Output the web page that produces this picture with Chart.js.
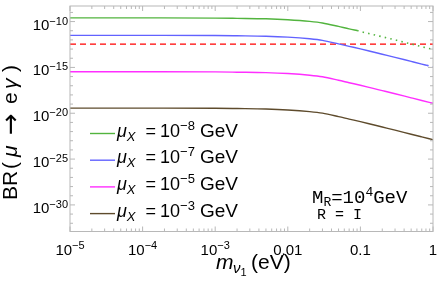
<!DOCTYPE html>
<html>
<head>
<meta charset="utf-8">
<script src="https://cdn.jsdelivr.net/npm/chart.js@4.4.1/dist/chart.umd.min.js"></script>
<style>
  html, body { margin: 0; padding: 0; background: #fff; }
  canvas { display: block; }
</style>
</head>
<body>
<canvas id="chart" width="441" height="285"></canvas>
<script>
// lightest neutrino mass m_nu1 (eV)
const mass = [1e-5, 1e-4, 1e-3, 2e-3, 5e-3, 0.01, 0.02, 0.03, 0.05, 0.07, 0.1, 0.15, 0.2, 0.3, 0.5, 0.7, 1];

// BR(mu -> e gamma)
const massMu8 = [1e-5, 1e-4, 1e-3, 2e-3, 5e-3, 0.01, 0.02, 0.03, 0.05, 0.07, 0.09];
const brMu8 = [2.51e-10, 2.51e-10, 2.4e-10, 2.24e-10, 2.0e-10, 1.58e-10, 1.05e-10, 7.1e-11, 2.95e-11, 1.58e-11, 1.07e-11];
const massMu8Dot = [0.09, 0.1, 0.15, 0.2, 0.3, 0.5, 0.7, 1];
const brMu8Dot = [1.07e-11, 8.3e-12, 3.8e-12, 2.19e-12, 1.0e-12, 3.55e-13, 1.82e-13, 9.1e-14];

const massMu7 = [1e-5, 1e-4, 1e-3, 2e-3, 5e-3, 0.01, 0.02, 0.03, 0.05, 0.07, 0.1, 0.15, 0.2, 0.3, 0.5, 0.7, 0.83];
const brMu7 = [3.16e-12, 3.16e-12, 3.02e-12, 2.82e-12, 2.51e-12, 2.0e-12, 1.32e-12, 8.9e-13, 3.7e-13, 2.0e-13, 1.05e-13, 4.8e-14, 2.75e-14, 1.26e-14, 4.5e-15, 2.3e-15, 1.66e-15];
const massMu7Dot = [0.83, 1];
const brMu7Dot = [1.66e-15, 1.15e-15];

const brMu5 = [3.4e-16, 3.4e-16, 3.24e-16, 3.02e-16, 2.7e-16, 2.14e-16, 1.41e-16, 9.5e-17, 4.0e-17, 2.14e-17, 1.12e-17, 5.1e-18, 2.95e-18, 1.35e-18, 4.8e-19, 2.45e-19, 1.23e-19];
const brMu3 = [3.6e-20, 3.6e-20, 3.47e-20, 3.24e-20, 2.88e-20, 2.29e-20, 1.51e-20, 1.02e-20, 4.3e-21, 2.3e-21, 1.2e-21, 5.5e-22, 3.16e-22, 1.45e-22, 5.1e-23, 2.63e-23, 1.32e-23];

// MEG bound (dashed)
const megBound = 3.5e-13;

// legend exponents of mu_X (GeV)
const muExp = ['\u22128', '\u22127', '\u22125', '\u22123'];
const colors = ['#52b43e', '#6262ff', '#ff2eff', '#5e4b2c'];

// tick labels
const xTickValues = [1e-5, 1e-4, 1e-3, 0.01, 0.1, 1];
const xTickLabels = [['10', '\u22125'], ['10', '\u22124'], ['10', '\u22123'], ['0.01', ''], ['0.1', ''], ['1', '']];
const yTickValues = [1e-30, 1e-25, 1e-20, 1e-15, 1e-10];
const yTickLabels = ['\u221230', '\u221225', '\u221220', '\u221215', '\u221210'];

const SANS = '"Liberation Sans", Arial, sans-serif';
const MONO = '"Liberation Mono", "Courier New", monospace';

const pts = (xs, ys) => xs.map((v, i) => ({ x: v, y: ys[i] }));

// text runs; p.at gives an explicit offset, otherwise runs follow each other
function drawRuns(ctx, parts, x, y, align) {
  let w = 0;
  for (const p of parts) { ctx.font = p.font; w += ctx.measureText(p.text).width + (p.gap || 0); }
  let cx = align === 'right' ? x - w : align === 'center' ? x - w / 2 : x;
  for (const p of parts) {
    ctx.font = p.font;
    const px = p.at !== undefined ? x + p.at : cx;
    ctx.fillText(p.text, px, y + (p.dy || 0));
    cx = px + ctx.measureText(p.text).width + (p.gap || 0);
  }
}

const decorations = {
  id: 'decorations',
  afterDraw(chart) {
    const { ctx, chartArea: a, scales: { x, y } } = chart;
    ctx.save();

    // frame + inside ticks on all four sides
    ctx.strokeStyle = '#b8b8b8';
    ctx.lineWidth = 1;
    ctx.strokeRect(a.left, a.top, a.right - a.left, a.bottom - a.top);
    ctx.beginPath();
    x.ticks.forEach(t => {
      const px = x.getPixelForValue(t.value), len = t.major ? 5 : 3;
      ctx.moveTo(px, a.bottom); ctx.lineTo(px, a.bottom - len);
      ctx.moveTo(px, a.top); ctx.lineTo(px, a.top + len);
    });
    y.ticks.forEach(t => {
      const py = y.getPixelForValue(t.value), len = t.major ? 5 : 3;
      ctx.moveTo(a.left, py); ctx.lineTo(a.left + len, py);
      ctx.moveTo(a.right, py); ctx.lineTo(a.right - len, py);
    });
    ctx.stroke();

    ctx.fillStyle = '#000';
    ctx.textAlign = 'left';
    ctx.textBaseline = 'alphabetic';

    // tick labels
    xTickValues.forEach((v, i) => {
      const [base, sup] = xTickLabels[i];
      drawRuns(ctx, [
        { text: base, font: '15px ' + SANS },
        { text: sup, font: '11px ' + SANS, dy: -6 }
      ], x.getPixelForValue(v), 255, 'center');
    });
    yTickValues.forEach((v, i) => {
      drawRuns(ctx, [
        { text: '10', font: '15px ' + SANS },
        { text: yTickLabels[i], font: '11px ' + SANS, dy: -5 }
      ], a.left - 2, y.getPixelForValue(v) + 8, 'right');
    });

    // x title
    drawRuns(ctx, [
      { text: 'm', font: 'italic 21px ' + SANS, at: 0 },
      { text: '\u03bd', font: 'italic 15px ' + SANS, at: 17, dy: 4 },
      { text: '1', font: '11px ' + SANS, at: 24.5, dy: 7 },
      { text: '(eV)', font: '21px ' + SANS, at: 35 }
    ], 216, 269, 'left');

    // y title
    ctx.save();
    ctx.translate(17, 200);
    ctx.rotate(-Math.PI / 2);
    drawRuns(ctx, [
      { text: 'BR', font: '21px ' + SANS, at: 0 },
      { text: '(', font: '21px ' + SANS, at: 31 },
      { text: '\u03bc', font: 'italic 21px ' + SANS, at: 43 },
      { text: '\u2192', font: '26px "DejaVu Sans", sans-serif', at: 65, dy: 1.5 },
      { text: 'e', font: '21px ' + SANS, at: 96 },
      { text: '\u03b3', font: 'italic 21px ' + SANS, at: 111 },
      { text: ')', font: '21px ' + SANS, at: 128 }
    ], 0, 0, 'left');
    ctx.restore();

    // legend
    for (let i = 0; i < 4; i++) {
      const ly = 133.5 + i * 26.7;
      ctx.strokeStyle = chart.data.datasets[i].borderColor;
      ctx.lineWidth = 1.4;
      ctx.beginPath(); ctx.moveTo(90, ly); ctx.lineTo(115, ly); ctx.stroke();
      drawRuns(ctx, [
        { text: '\u03bc', font: 'italic 18px ' + SANS },
        { text: 'X', font: 'italic 13px ' + SANS, dy: 4, gap: 10 },
        { text: '=', font: '18px ' + SANS, gap: 4 },
        { text: '10', font: '18px ' + SANS },
        { text: muExp[i], font: '13px ' + SANS, dy: -7, gap: 5 },
        { text: 'GeV', font: '19px ' + SANS }
      ], 117, ly + 3, 'left');
    }

    // parameter note
    drawRuns(ctx, [
      { text: 'M', font: '19px ' + MONO },
      { text: 'R', font: '13px ' + MONO, dy: 3 },
      { text: '=', font: '19px ' + MONO },
      { text: '10', font: '19px ' + MONO },
      { text: '4', font: '13px ' + MONO, dy: -7 },
      { text: 'GeV', font: '19px ' + MONO }
    ], 312, 203, 'left');
    drawRuns(ctx, [{ text: 'R = I', font: '15px ' + MONO }], 317, 218.5, 'left');

    ctx.restore();
  }
};

const ctx = document.getElementById('chart').getContext('2d');
new Chart(ctx, {
  type: 'line',
  data: {
    datasets: [
      { label: 'mu8', data: pts(massMu8, brMu8), borderColor: colors[0] },
      { label: 'mu7', data: pts(massMu7, brMu7), borderColor: colors[1] },
      { label: 'mu5', data: pts(mass, brMu5), borderColor: colors[2] },
      { label: 'mu3', data: pts(mass, brMu3), borderColor: colors[3] },
      { label: 'mu8 dotted', data: pts(massMu8Dot, brMu8Dot), borderColor: colors[0], borderDash: [1.5, 4.2], borderWidth: 1.6 },
      { label: 'mu7 dotted', data: pts(massMu7Dot, brMu7Dot), borderColor: colors[1], borderDash: [1.5, 4.2], borderWidth: 1.6 },
      { label: 'MEG', data: [{ x: 1e-5, y: megBound }, { x: 1, y: megBound }], borderColor: '#ff0000', borderDash: [6, 4], borderWidth: 1.3 }
    ]
  },
  options: {
    responsive: false,
    animation: false,
    layout: { padding: { top: 6, right: 8, left: 0, bottom: 0 } },
    elements: {
      point: { radius: 0 },
      line: { borderWidth: 1.4, cubicInterpolationMode: 'monotone', fill: false }
    },
    plugins: {
      legend: { display: false },
      tooltip: { enabled: false },
      title: { display: false }
    },
    scales: {
      x: {
        type: 'logarithmic',
        min: 1e-5,
        max: 1,
        grid: { display: false },
        border: { display: false },
        ticks: { display: false },
        afterBuildTicks: s => {
          const t = [];
          xTickValues.forEach((v, i) => {
            t.push({ value: v, major: true });
            if (i < xTickValues.length - 1) for (let k = 2; k < 10; k++) t.push({ value: v * k, major: false });
          });
          s.ticks = t;
        },
        afterFit: s => { s.height = 53.5; }
      },
      y: {
        type: 'logarithmic',
        min: 1.26e-33,
        max: 5.0e-9,
        grid: { display: false },
        border: { display: false },
        ticks: { display: false },
        afterBuildTicks: s => {
          const t = [];
          for (let e = -32; e <= -9; e++) t.push({ value: Math.pow(10, e), major: e % 5 === 0 });
          s.ticks = t;
        },
        afterFit: s => { s.width = 70; }
      }
    }
  },
  plugins: [decorations]
});
</script>
</body>
</html>
